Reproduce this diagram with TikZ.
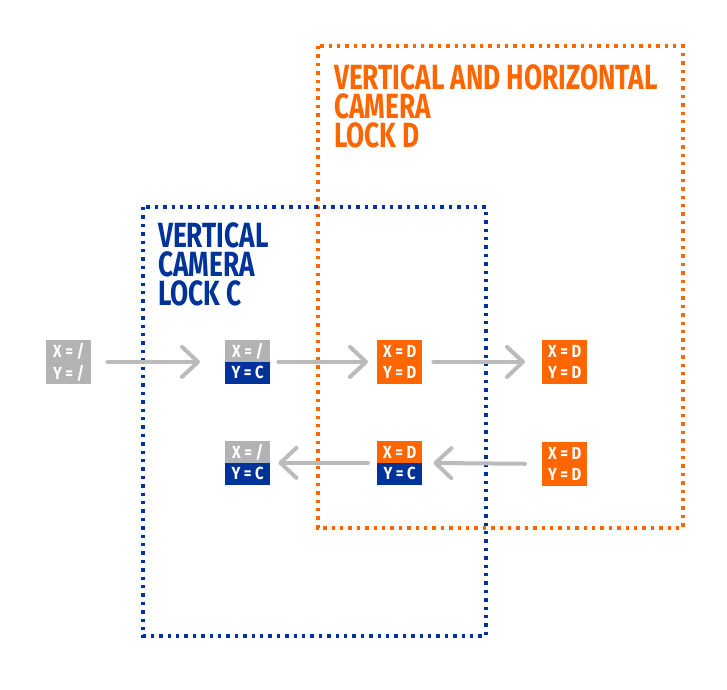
\documentclass[tikz,border=0pt]{standalone}
\usepackage{fontspec}
\usepackage{tikz}
\usetikzlibrary{positioning, arrows.meta}

\newfontfamily\dinfont[FakeStretch=0.75]{Fira Sans}
\newfontfamily\dincell[FakeStretch=0.85]{Fira Sans}

\definecolor{lockorange}{HTML}{FF6600}
\definecolor{lockblue}{HTML}{003399}
\definecolor{lockgrey}{HTML}{B3B3B3}
\definecolor{flowgrey}{HTML}{BBBBBB}

\begin{document}
\begin{tikzpicture}[x=1pt, y=-1pt,
    lockframe/.style={line width=3.4pt, dash pattern=on 3.4pt off 5pt},
    locktitle/.style={inner sep=0pt, text height=24pt, text depth=0pt,
        font=\dinfont\bfseries\fontsize{35}{35}\selectfont},
    cell/.style={minimum width=45pt, minimum height=21.5pt, inner sep=0pt,
        text=white, font=\dincell\bfseries\fontsize{17.5}{17.5}\selectfont},
    flow/.style={draw=flowgrey, line width=4pt, line cap=round,
        -{Straight Barb[length=16pt, width=30pt, round]}}]
        \useasboundingbox (0,0) rectangle (727,689);

        % lock frames
        \draw[lockframe, lockorange] (318,46) rectangle (683,528);
        \draw[lockframe, lockblue] (143,207) rectangle (486,636);

        % frame titles
        \node[locktitle, lockorange, anchor=north west] (dtitle1) at (334,65) {VERTICAL AND HORIZONTAL};
        \node[locktitle, lockorange, below=4.7pt of dtitle1.south west, anchor=north west] (dtitle2) {CAMERA};
        \node[locktitle, lockorange, below=4.7pt of dtitle2.south west, anchor=north west] (dtitle3) {LOCK D};
        \node[locktitle, lockblue, anchor=north west] (ctitle1) at (158,223) {VERTICAL};
        \node[locktitle, lockblue, below=4.7pt of ctitle1.south west, anchor=north west] (ctitle2) {CAMERA};
        \node[locktitle, lockblue, below=4.7pt of ctitle2.south west, anchor=north west] (ctitle3) {LOCK C};

        % draw cells
        \foreach \cell/\cx/\cy/\xcol/\ycol/\xval/\yval in {
            a1/46/340/lockgrey/lockgrey/{/}/{/},
            c1/225/340/lockgrey/lockblue/{/}/C,
            d1/377/340/lockorange/lockorange/D/D,
            e1/542/340/lockorange/lockorange/D/D,
            c2/225/441/lockgrey/lockblue/{/}/C,
            d2/377/441/lockorange/lockblue/D/C,
            e2/542/442/lockorange/lockorange/D/D}
        {
            \node[cell, fill=\xcol, anchor=north west] (\cell-x) at (\cx,\cy) {X = \xval};
            \node[cell, fill=\ycol, below=0pt of \cell-x] (\cell-y) {Y = \yval};
        }

        % draw arrows
        \draw[flow, shorten <=16pt, shorten >=25pt] (a1-x.south east) -- (c1-x.south west);
        \draw[flow, shorten <=8pt, shorten >=9pt] (c1-x.south east) -- (d1-x.south west);
        \draw[flow, shorten <=11pt, shorten >=17pt] (d1-x.south east) -- (e1-x.south west);
        \draw[flow, shorten <=17pt, shorten >=11pt] (e2-x.south west) -- (d2-x.south east);
        \draw[flow, shorten <=9pt, shorten >=8pt] (d2-x.south west) -- (c2-x.south east);
    \end{tikzpicture}
\end{document}
